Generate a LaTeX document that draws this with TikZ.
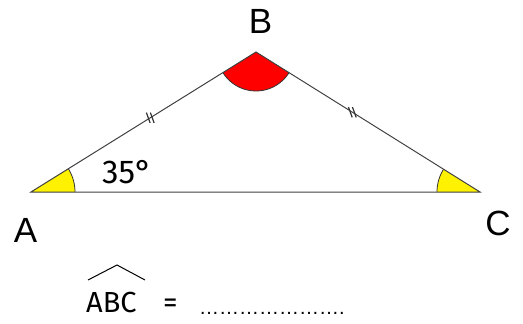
\documentclass[tikz,border=0pt]{standalone}
\usepackage{fontspec}
\setmainfont{Liberation Sans}
\newfontfamily\handfont{Fira Sans}
\usetikzlibrary{angles,calc}
\tikzset{
  side/.style={draw=black!75, line width=1pt},
  vlabel/.style={font=\fontsize{35}{40}\selectfont, anchor=base, inner sep=0pt},
  handtext/.style={font=\handfont\fontsize{29}{32}\selectfont, anchor=base west, inner sep=0pt},
  tick/.style={draw=black!80, line width=1.2pt},
  sector/.style={draw=black!80, line width=0.8pt}
}
\begin{document}
\begin{tikzpicture}[x=1pt,y=-1pt]
\useasboundingbox (0,0) rectangle (523,324);
\coordinate (A) at (31,192);
\coordinate (B) at (256,52);
\coordinate (C) at (480,192);
% angle sectors
\pic[sector, fill=yellow, angle radius=44pt] {angle = C--A--B};
\pic[sector, fill=red, angle radius=39pt] {angle = A--B--C};
\pic[sector, fill=yellow, angle radius=43pt] {angle = B--C--A};
% triangle
\draw[side] (A) -- (B) -- (C) -- cycle;
% equal-length ticks
\coordinate (m1) at ($(A)!0.53!(B)$);
\coordinate (m2) at ($(B)!0.43!(C)$);
\foreach \d in {-2,2} {
  \draw[tick] ($(m1)+(\d,0)+(250:5.5)$) -- ($(m1)+(\d,0)+(70:5.5)$);
  \draw[tick] ($(m2)+(\d,0)+(250:5.5)$) -- ($(m2)+(\d,0)+(70:5.5)$);
}
% labels
\node[vlabel] (la) at (25.5,242) {A};
\node[vlabel] (lb) at (260.5,33) {B};
\node[vlabel] (lc) at (498,235) {C};
\node[handtext, font=\handfont\fontsize{33}{36}\selectfont] (ang) at (102,183) {35°};
% formula
\node[handtext] (abc) at (86,312) {ABC};
\coordinate (hl) at (88,280);
\coordinate (ht) at (117,265);
\coordinate (hr) at (145,280);
\draw[line width=1pt, black] (hl) -- (ht) -- (hr);
\node[handtext] (eq) at (163,312) {=};
\node[anchor=base west, inner sep=0pt, font=\fontsize{20}{24}\selectfont] (dots) at (199,314) {{…}{…}{…}{…}{…}{…}{…}.};
\end{tikzpicture}
\end{document}
